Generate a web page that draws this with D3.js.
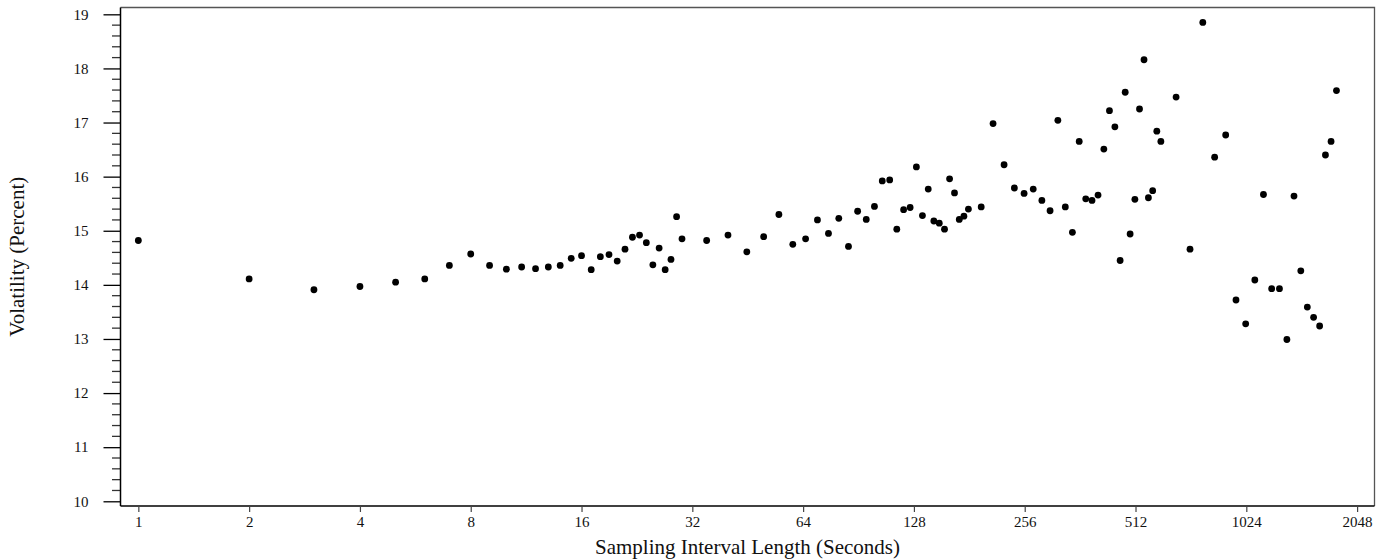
<!DOCTYPE html>
<html>
<head>
<meta charset="utf-8">
<script src="https://cdn.jsdelivr.net/npm/d3@7"></script>
<style>
  html, body { margin: 0; padding: 0; background: #fff; }
  svg { display: block; }
  text { font-family: "Liberation Serif", "Times New Roman", serif; fill: #111; }
</style>
</head>
<body>
<svg id="chart" width="1390" height="560"></svg>
<script>
// Sampling interval (seconds)
const intervals = [
  1, 2, 3, 4, 5, 6, 7, 8, 9, 10,
  11, 12, 13, 14, 15, 16, 17, 18, 19, 20,
  21, 22, 23, 24, 25, 26, 27, 28, 29, 30,
  35, 40, 45, 50, 55, 60, 65, 70, 75, 80,
  85, 90, 95, 100, 105, 110, 115, 120, 125, 130,
  135, 140, 145, 150, 155, 160, 165, 170, 175, 180,
  195, 210, 225, 240, 255, 270, 285, 300, 315, 330,
  345, 360, 375, 390, 405, 420, 435, 450, 465, 480,
  495, 510, 525, 540, 555, 570, 585, 600, 660, 720,
  780, 840, 900, 960, 1020, 1080, 1140, 1200, 1260, 1320,
  1380, 1440, 1500, 1560, 1620, 1680, 1740, 1800
];
// Volatility (percent)
const volatility = [
  14.82, 14.11, 13.91, 13.97, 14.05, 14.11, 14.36, 14.57, 14.36, 14.29,
  14.33, 14.30, 14.33, 14.36, 14.49, 14.54, 14.28, 14.52, 14.56, 14.44,
  14.66, 14.88, 14.92, 14.78, 14.37, 14.68, 14.28, 14.47, 15.26, 14.85,
  14.82, 14.92, 14.61, 14.89, 15.30, 14.75, 14.85, 15.20, 14.95, 15.23,
  14.71, 15.36, 15.21, 15.45, 15.92, 15.94, 15.03, 15.39, 15.43, 16.18,
  15.28, 15.77, 15.18, 15.14, 15.03, 15.96, 15.70, 15.21, 15.27, 15.40,
  15.44, 16.98, 16.22, 15.79, 15.69, 15.77, 15.56, 15.37, 17.04, 15.44,
  14.97, 16.65, 15.59, 15.56, 15.66, 16.51, 17.22, 16.92, 14.45, 17.56,
  14.94, 15.58, 17.25, 18.16, 15.61, 15.74, 16.84, 16.65, 17.47, 14.66,
  18.85, 16.36, 16.77, 13.72, 13.28, 14.09, 15.67, 13.93, 13.93, 12.99,
  15.64, 14.26, 13.59, 13.40, 13.24, 16.40, 16.65, 17.59
];
const xTickValues = [1, 2, 4, 8, 16, 32, 64, 128, 256, 512, 1024, 2048];
const yTickValues = [10, 11, 12, 13, 14, 15, 16, 17, 18, 19];
const xTitle = "Sampling Interval Length (Seconds)";
const yTitle = "Volatility (Percent)";

const points = intervals.map((d, i) => ({ x: d, y: volatility[i] }));

const svg = d3.select("#chart");
const L = 120.5, R = 1374.5, T = 7.5, B = 506;

const x = d3.scaleLog().base(2)
  .domain([Math.pow(2, -0.161), Math.pow(2, 11.157)])
  .range([L, R]);
const y = d3.scaleLinear()
  .domain([9.913, 19.126])
  .range([B, T]);

// frame (top & right)
svg.append("path")
  .attr("d", `M${L},${T}H${R}V${B}`)
  .attr("fill", "none").attr("stroke", "#555").attr("stroke-width", 1.3);

// X axis
const xAxis = d3.axisBottom(x)
  .tickValues(xTickValues)
  .tickFormat(d3.format("d"))
  .tickSizeInner(6).tickSizeOuter(0).tickPadding(4);
const gx = svg.append("g").attr("transform", `translate(0,${B})`).call(xAxis);
gx.select(".domain").attr("d", `M${L},0H${R}`).attr("stroke", "#000").attr("stroke-width", 1.5);
gx.selectAll(".tick line").attr("stroke", "#444").attr("stroke-width", 1.2);
gx.selectAll(".tick text")
  .attr("font-family", "Liberation Serif, Times New Roman, serif")
  .attr("font-size", 15).attr("fill", "#111");

// Y axis: minor ticks
const minor = d3.range(10, 19.001, 0.2).filter(v => Math.abs(v - Math.round(v)) > 0.01);
svg.append("g").selectAll("line").data(minor).join("line")
  .attr("x1", L - 8.5).attr("x2", L)
  .attr("y1", d => y(d)).attr("y2", d => y(d))
  .attr("stroke", "#333").attr("stroke-width", 1.3);

const yAxis = d3.axisLeft(y)
  .tickValues(yTickValues)
  .tickFormat(d3.format("d"))
  .tickSizeInner(17).tickSizeOuter(0).tickPadding(15);
const gy = svg.append("g").attr("transform", `translate(${L},0)`).call(yAxis);
gy.select(".domain").attr("d", `M0,${T}V${B}`).attr("stroke", "#000").attr("stroke-width", 1.5);
gy.selectAll(".tick line").attr("stroke", "#000").attr("stroke-width", 1.3);
gy.selectAll(".tick text")
  .attr("font-family", "Liberation Serif, Times New Roman, serif")
  .attr("font-size", 15).attr("fill", "#111");

// points
svg.append("g").selectAll("circle").data(points).join("circle")
  .attr("cx", d => x(d.x))
  .attr("cy", d => y(d.y))
  .attr("r", 3.4)
  .attr("fill", "#000");

// titles
svg.append("text")
  .attr("x", (L + R) / 2).attr("y", 554)
  .attr("text-anchor", "middle")
  .attr("font-size", 21)
  .text(xTitle);
svg.append("text")
  .attr("transform", `translate(24,${(T + B) / 2}) rotate(-90)`)
  .attr("text-anchor", "middle")
  .attr("font-size", 21)
  .text(yTitle);
</script>
</body>
</html>
